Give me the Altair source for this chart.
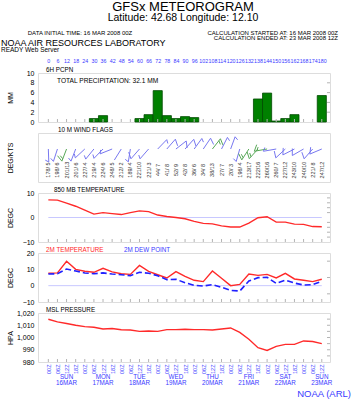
import math
import altair as alt
import pandas as pd

# ---------------- data ----------------
hours = list(range(0, 181, 6))
precip_hours = [30, 36, 60, 66, 72, 78, 84, 90, 96, 138, 144, 150, 156, 162, 180]
precip_mm = [0.7, 1.3, 0.7, 1.5, 6.4, 1.3, 0.7, 1.1, 0.9, 4.7, 5.9, 0.2, 0.7, 1.5, 5.4]
wind_dir = [178, 198, 201, 201, 227, 219, 224, 248, 212, 189, 221, 221, 44, 41, 52, 42,
            36, 34, 38, 27, 20, 196, 213, 222, 260, 260, 227, 243, 240, 221, 247]
wind_kt = [5, 6, 13, 6, 4, 4, 6, 5, 2, 4, 10, 3, 7, 8, 9, 8,
           6, 8, 13, 7, 3, 4, 17, 16, 16, 7, 12, 10, 10, 8, 12]
t850 = [7.2, 7.1, 5.9, 4.6, 3.0, 1.4, 2.0, 1.6, 1.2, 2.0, 2.7, 2.4, 1.0, 0.4, 0.0, -0.5,
        -1.6, -2.4, -2.6, -3.4, -3.9, -3.9, -2.3, -0.1, 0.3, -1.9, -1.9, -2.7, -2.8, -3.7, -3.8]
t2m = [7.6, 7.8, 14.9, 10.0, 8.8, 8.2, 10.6, 8.4, 7.3, 6.9, 12.4, 8.8, 6.7, 4.7, 8.6, 5.7,
       3.3, 2.5, 9.0, 4.5, 0.0, 0.8, 7.1, 6.3, 6.9, 4.7, 7.5, 4.1, 3.3, 2.5, 3.9]
td2m = [7.1, 7.3, 10.2, 9.0, 7.8, 7.3, 7.8, 7.1, 6.7, 6.1, 8.2, 7.6, 6.1, 3.7, 3.9, 1.8,
        0.2, -0.2, 0.6, -1.0, -2.9, -3.3, 2.9, 4.9, 5.1, 1.4, 3.3, 1.6, 0.4, 0.6, 2.7]
mslp = [1014.9, 1012.7, 1011.4, 1010.0, 1008.9, 1008.4, 1007.0, 1007.4, 1006.3, 1006.1,
        1005.0, 1005.3, 1005.0, 1006.4, 1006.4, 1006.7, 1006.4, 1006.4, 1006.1, 1006.9,
        1007.8, 1004.2, 998.6, 991.7, 989.4, 992.8, 994.4, 994.4, 997.2, 996.7, 995.0]
time_labels = ["00Z", "06Z", "12Z", "18Z"]
day_hours = [12, 36, 60, 84, 108, 132, 156, 180]
day_labels = ["SUN\n16MAR", "MON\n17MAR", "TUE\n18MAR", "WED\n19MAR",
              "THU\n20MAR", "FRI\n21MAR", "SAT\n22MAR", "SUN\n23MAR"]

# ---------------- style ----------------
FONT = "Liberation Sans"
W = 292
H = 49
X_DOMAIN = [-6.8, 185.4]
BLUE = "#3a3aff"
RED = "#ff2a2a"
FRAME = "#b4b4b4"
TICK = "#b4b4b4"
ZERO = "#c8c8ff"
BARB_BLUE = "#7878f0"
BARB_GREEN = "#58a858"

xscale = alt.Scale(domain=X_DOMAIN, nice=False, zero=False)
hours_df = pd.DataFrame({"h": hours})


def yaxis(title, values=None, labels=True):
    kw = dict(title=title, orient="left", grid=False, ticks=False, tickSize=0, domain=False,
              labels=labels, labelFontSize=7, labelFont=FONT, labelColor="black",
              labelPadding=4, titleFont=FONT, titleFontSize=7, titleFontWeight="normal",
              titleColor="black", titlePadding=3, minExtent=22, maxExtent=22)
    if values is not None:
        kw["values"] = values
    return alt.Axis(**kw)


def bottom_ticks(xaxis):
    return alt.Chart(hours_df).mark_rule(color=TICK, strokeWidth=1).encode(
        x=alt.X("h:Q", scale=xscale, axis=xaxis), y=alt.value(H - 3), y2=alt.value(H))


def right_ticks(values, scale, yax):
    df = pd.DataFrame({"v": values})
    return alt.Chart(df).mark_rule(color=TICK, strokeWidth=1).encode(
        y=alt.Y("v:Q", scale=scale, axis=yax), x=alt.value(W - 3), x2=alt.value(W))


def label(text, x, y=-3, color="black", size=6.3, align="left"):
    return alt.Chart(hours_df.head(1)).mark_text(
        text=text, font=FONT, fontSize=size, color=color, align=align, baseline="middle"
    ).encode(x=alt.value(x), y=alt.value(y))


def zero_line(scale, xaxis, yax):
    df = pd.DataFrame({"a": [0], "b": [180], "z": [0]})
    return alt.Chart(df).mark_rule(color=ZERO, strokeWidth=1).encode(
        x=alt.X("a:Q", scale=xscale, axis=xaxis), x2="b:Q",
        y=alt.Y("z:Q", scale=scale, axis=yax))


# ---------------- precipitation panel ----------------
pdf = pd.DataFrame({"h": precip_hours, "mm": precip_mm})
pdf["h0"] = pdf["h"] - 3
pdf["h1"] = pdf["h"] + 3
pdf["base"] = 0.0
pscale = alt.Scale(domain=[0, 10], nice=False)
top_axis = alt.Axis(orient="top", values=hours, title=None, ticks=False, tickSize=0,
                    domain=False, grid=False, labelFontSize=5.3, labelFont=FONT,
                    labelColor=BLUE, labelPadding=10, labelOverlap=False,
                    labelFlush=False, format="d")
p_yaxis = yaxis("MM", [0, 2, 4, 6, 8, 10])

bars = alt.Chart(pdf).mark_rect(color="#008000", stroke="#004a00", strokeWidth=0.8).encode(
    x=alt.X("h0:Q", scale=xscale, axis=top_axis), x2="h1:Q",
    y=alt.Y("mm:Q", scale=pscale, axis=p_yaxis), y2="base:Q",
)


def htext(text, x, y, size, align):
    return alt.Chart(hours_df.head(1)).mark_text(
        text=text, font=FONT, fontSize=size, align=align, baseline="alphabetic", color="black"
    ).encode(x=alt.value(x), y=alt.value(y))


header = [
    htext("GFSx METEOROGRAM", 145, -62.3, 13, "center"),
    htext("Latitude: 42.68 Longitude:  12.10", 145, -52.5, 10.5, "center"),
    htext("DATA INITIAL TIME: 16 MAR 2008 00Z", 42, -38.5, 6, "center"),
    htext("CALCULATION STARTED AT: 16 MAR 2008 00Z", 300, -38.5, 6, "right"),
    htext("CALCULATION ENDED AT: 23 MAR 2008 12Z", 300, -33.5, 6, "right"),
    htext("NOAA AIR RESOURCES LABORATORY", -37, -27.5, 9, "left"),
    htext("READY Web Server", -37, -21, 6.5, "left"),
]

precip = alt.layer(
    bars, bottom_ticks(top_axis), right_ticks([2, 4, 6, 8], pscale, p_yaxis),
    label("6H PCPN", 8), label("TOTAL PRECIPITATION:  32.1 MM", 19, 8, size=6.6),
    *header,
).properties(width=W, height=H)

# ---------------- wind panel ----------------
KX = W / (X_DOMAIN[1] - X_DOMAIN[0])
Y0 = 16.0
L = 13.0
rows = []
for h, d, s in zip(hours, wind_dir, wind_kt):
    t = math.radians(d)
    dx, dy = math.sin(t), -math.cos(t)
    col = BARB_GREEN if s >= 13 else BARB_BLUE
    tx, ty = L * dx, Y0 + L * dy
    rows.append(dict(x=h, y=Y0, x2=h + tx / KX, y2=ty, c=col))
    r = int(round(s / 5.0)) * 5
    nfull, half = r // 10, (r % 10) == 5
    cwx, cwy = -dy, dx
    fx, fy = 0.5 * (-dx) + 0.866 * cwx, 0.5 * (-dy) + 0.866 * cwy
    k = 0
    for i in range(nfull):
        px, py = L * dx - k * 2.5 * dx, Y0 + L * dy - k * 2.5 * dy
        rows.append(dict(x=h + px / KX, y=py, x2=h + (px + 7 * fx) / KX, y2=py + 7 * fy, c=col))
        k += 1
    if half:
        px, py = L * dx - k * 2.5 * dx, Y0 + L * dy - k * 2.5 * dy
        rows.append(dict(x=h + px / KX, y=py, x2=h + (px + 4 * fx) / KX, y2=py + 4 * fy, c=col))
wdf = pd.DataFrame(rows)
wscale = alt.Scale(domain=[H, 0], nice=False, zero=False)

barbs = alt.Chart(wdf).mark_rule(strokeWidth=1).encode(
    x=alt.X("x:Q", scale=xscale, axis=None), x2="x2:Q",
    y=alt.Y("y:Q", scale=wscale, axis=yaxis("DEG/KTS", labels=False)), y2="y2:Q",
    color=alt.Color("c:N", scale=None),
)
wlab = pd.DataFrame({"h": hours, "t": [f"{d}/{s:2d}" for d, s in zip(wind_dir, wind_kt)]})
wind_text = alt.Chart(wlab).mark_text(font=FONT, fontSize=5.5, angle=270, color="#333333",
                                      align="center", baseline="middle").encode(
    x=alt.X("h:Q", scale=xscale, axis=None), y=alt.value(37), text="t:N")

wind = alt.layer(barbs, wind_text, label("10 M  WIND FLAGS", 20)).properties(width=W, height=H)

# ---------------- 850 mb temperature ----------------
tscale = alt.Scale(domain=[-10, 10], nice=False)
t_yaxis = yaxis("DEGC", [-10, 0, 10])
df850 = pd.DataFrame({"h": hours, "t": t850})
line850 = alt.Chart(df850).mark_line(color=RED, strokeWidth=1.4).encode(
    x=alt.X("h:Q", scale=xscale, axis=None),
    y=alt.Y("t:Q", scale=tscale, axis=t_yaxis))
p850 = alt.layer(
    zero_line(tscale, None, t_yaxis), line850, bottom_ticks(None),
    right_ticks([-8, -6, -4, -2, 2, 4, 6, 8], tscale, t_yaxis),
    label("850 MB  TEMPERATURE", 16),
).properties(width=W, height=H)

# ---------------- 2 m temperature / dew point ----------------
t2scale = alt.Scale(domain=[-10, 20], nice=False)
t2_yaxis = yaxis("DEGC", [-10, 0, 10, 20])
df2 = pd.DataFrame({"h": hours, "t": t2m, "td": td2m})
line_t = alt.Chart(df2).mark_line(color=RED, strokeWidth=1.4).encode(
    x=alt.X("h:Q", scale=xscale, axis=None),
    y=alt.Y("t:Q", scale=t2scale, axis=t2_yaxis))
line_td = alt.Chart(df2).mark_line(color="#2020ff", strokeWidth=1.6, strokeDash=[6, 3]).encode(
    x=alt.X("h:Q", scale=xscale, axis=None),
    y=alt.Y("td:Q", scale=t2scale, axis=t2_yaxis))
p2m = alt.layer(
    zero_line(t2scale, None, t2_yaxis), line_t, line_td, bottom_ticks(None),
    right_ticks([-5, 5, 15], t2scale, t2_yaxis),
    label("2M TEMPERATURE", 8, color=RED), label("2M   DEW POINT", 86, color=BLUE),
).properties(width=W, height=H)

# ---------------- MSL pressure ----------------
mscale = alt.Scale(domain=[980, 1020], nice=False, zero=False)
m_yaxis = yaxis("HPA", [980, 990, 1000, 1010, 1020])
bottom_axis = alt.Axis(orient="bottom", values=hours, title=None, ticks=False, tickSize=0,
                       domain=False, grid=False, labelAngle=270, labelFontSize=5.5,
                       labelFont=FONT, labelColor=BLUE, labelPadding=2,
                       labelOverlap=False, labelFlush=False,
                       labelExpr="['00Z','06Z','12Z','18Z'][floor(datum.value/6)%4]")
dfm = pd.DataFrame({"h": hours, "p": mslp})
line_p = alt.Chart(dfm).mark_line(color=RED, strokeWidth=1.4).encode(
    x=alt.X("h:Q", scale=xscale, axis=bottom_axis),
    y=alt.Y("p:Q", scale=mscale, axis=m_yaxis))
ddf = pd.DataFrame({"h": day_hours, "d": day_labels})
days = alt.Chart(ddf).mark_text(font=FONT, fontSize=6.3, color=BLUE, lineBreak="\n",
                                lineHeight=6.0, baseline="top", align="center").encode(
    x=alt.X("h:Q", scale=xscale, axis=bottom_axis), y=alt.value(H + 11.5), text="d:N")
pmsl = alt.layer(
    line_p, bottom_ticks(bottom_axis),
    right_ticks([985, 990, 995, 1000, 1005, 1010, 1015], mscale, m_yaxis),
    days, label("MSL PRESSURE", 8),
    label("NOAA (ARL)", 313, 81, color=BLUE, size=9.5, align="right"),
).properties(width=W, height=H)

chart = alt.vconcat(precip, wind, p850, p2m, pmsl, spacing=11, bounds="flush").properties(
    padding={"left": 0, "top": 0, "right": 0, "bottom": 0}
).configure_view(stroke=FRAME, strokeWidth=1).configure(background="white")

chart.save("out.html", embed_options={"renderer": "svg", "actions": False})
